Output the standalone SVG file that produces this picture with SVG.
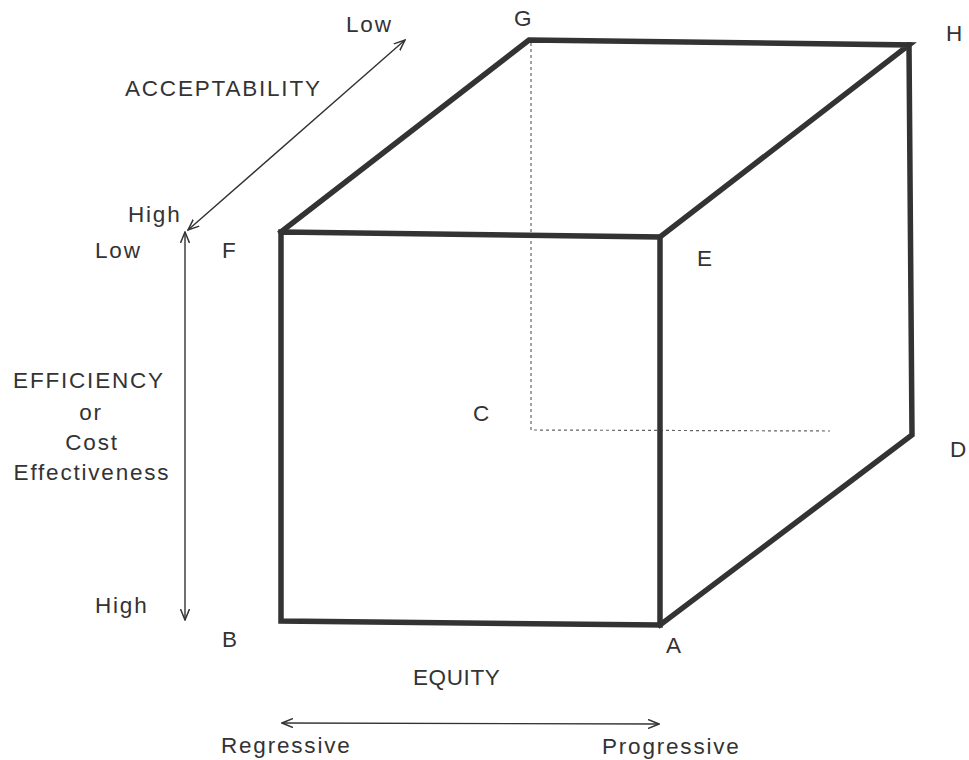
<svg xmlns="http://www.w3.org/2000/svg" width="969" height="760" viewBox="0 0 969 760">
<style>
text{font-family:"Liberation Sans",Arial,sans-serif;font-size:22.5px;fill:#333;letter-spacing:1.8px}
text.tight{letter-spacing:0.6px}
.edge{stroke:#333;stroke-width:5.5;fill:none;stroke-linejoin:miter;stroke-linecap:square}
.hidden{stroke:#666;stroke-width:1.2;fill:none;stroke-dasharray:3 3}
.axis{stroke:#333;stroke-width:1.4;fill:none;marker-start:url(#ah);marker-end:url(#ah)}
</style>
<defs>
<marker id="ah" viewBox="0 0 12 10" refX="11" refY="5" markerWidth="12" markerHeight="10" markerUnits="userSpaceOnUse" orient="auto-start-reverse">
<path d="M0,0.5 L11,5 L0,9.5" fill="none" stroke="#333" stroke-width="1.5"/>
</marker>
</defs>
<rect width="969" height="760" fill="#fff"/>
<g id="connectors">
<path class="hidden" d="M531,43 L531,430 L830,431"/>
<g id="cube">
<path class="edge" d="M281,232 L660,237 L660,625 L281,621 Z"/>
<path class="edge" d="M281,232 L529,40 L909,45 L660,237"/>
<path class="edge" d="M909,45 L912,435 L660,625"/>
</g>
<line id="axis-acceptability" class="axis" x1="188" y1="230" x2="405" y2="40"/>
<line id="axis-efficiency" class="axis" x1="185" y1="232" x2="185" y2="620"/>
<line id="axis-equity" class="axis" x1="282" y1="723" x2="659" y2="724"/>
</g>
<g id="vertex-labels">
<g id="node-F"><text x="222" y="258">F</text></g>
<g id="node-G"><text x="514" y="26">G</text></g>
<g id="node-H"><text x="946" y="41">H</text></g>
<g id="node-E"><text x="697" y="266">E</text></g>
<g id="node-C"><text x="473" y="421">C</text></g>
<g id="node-D"><text x="950" y="457">D</text></g>
<g id="node-B"><text x="222" y="647">B</text></g>
<g id="node-A"><text x="666" y="653">A</text></g>
</g>
<g id="acceptability-labels">
<text x="346" y="32">Low</text>
<text x="125" y="96">ACCEPTABILITY</text>
<text x="128" y="222">High</text>
</g>
<g id="efficiency-labels">
<text x="95" y="258">Low</text>
<text x="89" y="388" text-anchor="middle">EFFICIENCY</text>
<text x="91" y="420" text-anchor="middle">or</text>
<text x="92" y="450" text-anchor="middle">Cost</text>
<text x="92" y="480" text-anchor="middle">Effectiveness</text>
<text x="95" y="613">High</text>
</g>
<g id="equity-labels">
<text class="tight" x="413" y="685">EQUITY</text>
<text x="221" y="753">Regressive</text>
<text x="602" y="754">Progressive</text>
</g>
</svg>
